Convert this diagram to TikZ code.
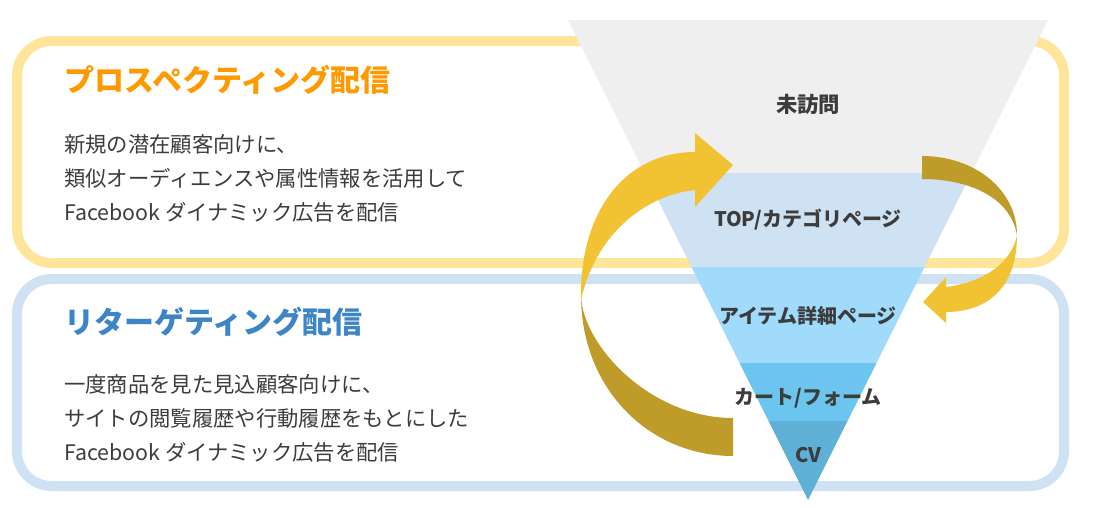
\documentclass[tikz,border=0pt]{standalone}
\usepackage{fontspec}
\setmainfont{Noto Sans CJK JP}
\usetikzlibrary{positioning}

\definecolor{frameY}{HTML}{FFE599}
\definecolor{frameB}{HTML}{CFE2F3}
\definecolor{ttlO}{HTML}{FF9900}
\definecolor{ttlB}{HTML}{3D85C6}
\definecolor{txt}{HTML}{3C3C3C}
\definecolor{band0}{HTML}{EFEFEF}
\definecolor{band1}{HTML}{CFE2F3}
\definecolor{band2}{HTML}{A0DBFC}
\definecolor{band3}{HTML}{6CC5EE}
\definecolor{band4}{HTML}{5FB0D6}
\definecolor{goldL}{HTML}{F1C232}
\definecolor{goldD}{HTML}{BF9B2A}

\begin{document}
\begin{tikzpicture}[x=0.75pt,y=-0.75pt,
        frame/.style={line width=7.5pt,rounded corners=26pt},
        ttl/.style={anchor=west,inner sep=0pt,font=\bfseries\fontsize{22.5}{27}\selectfont},
        body/.style={anchor=west,inner sep=0pt,align=left,text=txt,
          font=\fontsize{16}{25.5}\selectfont},
        lbl/.style={inner sep=0pt,text=txt,font=\bfseries\fontsize{15}{18}\selectfont}]

  \useasboundingbox (0,0) rectangle (1094,507);

  % two frames
  \draw[frame,frameY] (17,41) rectangle (1064,263);
  \draw[frame,frameB] (17,279) rectangle (1064,486);

  \node[ttl,text=ttlO] (pt) at (64,80) {プロスペクティング配信};
  \node[body] (pb) at (64,178) {新規の潜在顧客向けに、\\類似オーディエンスや属性情報を活用して\\Facebook ダイナミック広告を配信};
  \node[ttl,text=ttlB] (rt) at (64,322) {リターゲティング配信};
  \node[body] (rb) at (64,418) {一度商品を見た見込顧客向けに、\\サイトの閲覧履歴や行動履歴をもとにした\\Facebook ダイナミック広告を配信};

  % funnel
  \begin{scope}
    \clip (568,20) -- (1048,20) -- (808,500) -- cycle;
    \fill[band0] (560,10) rectangle (1060,173);
    \fill[band1] (560,173) rectangle (1060,267);
    \fill[band2] (560,267) rectangle (1060,363);
    \fill[band3] (560,363) rectangle (1060,421);
    \fill[band4] (560,421) rectangle (1060,510);
  \end{scope}

  \node[lbl,font=\bfseries\fontsize{16}{18}\selectfont] (0) at (808,104) {未訪問};
  \node[lbl] (1) at (808,220) {TOP/カテゴリページ};
  \node[lbl] (2) at (808,316) {アイテム詳細ページ};
  \node[lbl] (3) at (808,398) {カート/フォーム};
  \node[lbl] (4) at (808,455) {CV};

  % left loop arrow
  \fill[goldD] (581,295) .. controls (581,390) and (650,456) .. (733,456)
        -- (733,418) .. controls (650,418) and (582,345) .. (581,295) -- cycle;
  \fill[goldL] (581,300) .. controls (579,212) and (625,152) .. (695,152)
        -- (695,133) -- (733,165) -- (695,207) -- (695,190)
        .. controls (645,195) and (595,235) .. (581,300) -- cycle;

  % right loop arrow
  \fill[goldD] (922,156) .. controls (975,156) and (1017,190) .. (1017,235)
        .. controls (1010,195) and (965,179) .. (922,179) -- cycle;
  \fill[goldL] (1017,235) .. controls (1017,290) and (985,312) .. (946,312)
        -- (946,323) -- (923,302) -- (946,277) -- (946,287)
        .. controls (985,282) and (1012,262) .. (1017,235) -- cycle;

\end{tikzpicture}
\end{document}
